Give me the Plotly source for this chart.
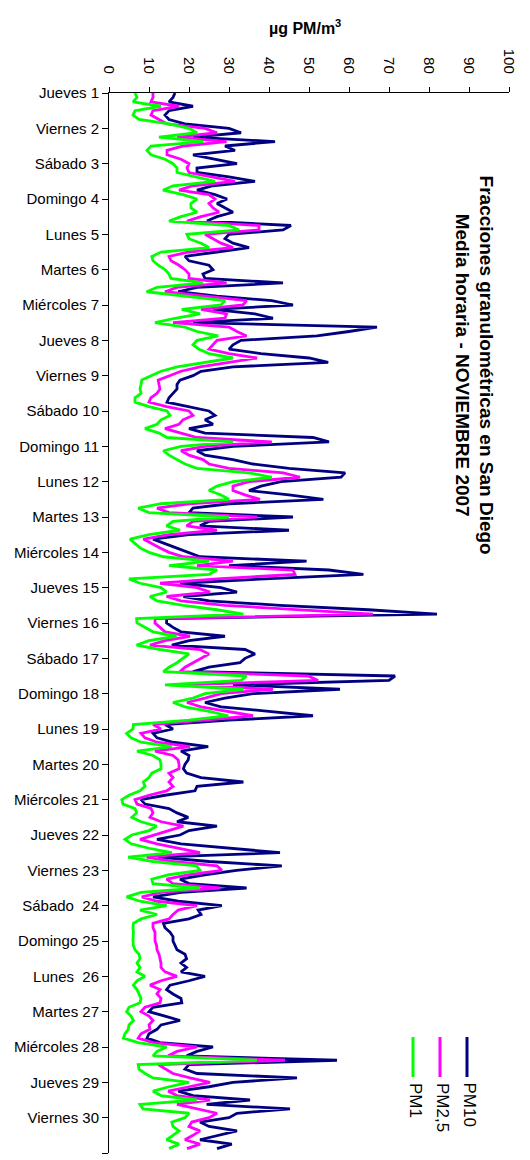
import plotly.graph_objects as go

# Hourly-average particle fractions, San Diego, November 2007 (3-hour steps, 8 per day)
pm10 = [
    16.5, 16, 15, 21, 15, 14, 15, 19,
    30, 33, 21, 41.5, 29, 31.5, 21, 27,
    32, 22, 22, 30, 36.5, 26, 22, 26.5,
    29.5, 27, 29, 31, 27, 24.5, 45.5, 43.5,
    30, 29, 31, 35, 27, 19, 20, 25,
    26, 23.5, 24, 43.5, 22, 17.3, 27, 40.7,
    46, 26, 36.5, 41, 21, 67, 60, 52,
    33, 31, 30, 38, 50, 54.8, 31, 23,
    21, 17.75, 17, 17, 16, 15, 14.5, 20,
    25, 26.5, 24, 26, 20, 24, 51, 55,
    31, 22, 24, 31, 36, 45, 59, 58,
    43, 38, 35, 45, 53.6, 30, 21, 20,
    46, 25, 22.75, 45, 20, 11, 14, 17,
    20, 22.75, 49.4, 30, 55, 63.6, 39, 17.75,
    28, 32, 18.6, 25, 42.75, 64.8, 82, 14.4,
    14.4, 16, 18, 29, 20, 15.7, 34, 36.5,
    34, 32.75, 25, 21, 71.5, 70, 31, 57.75,
    36, 29, 24, 28, 40, 51, 30, 14,
    16, 11, 12, 16, 24.8, 18, 20, 19.8,
    19, 18.6, 19.4, 23, 33.6, 22, 21.5, 14,
    8, 9, 15, 17, 19.8, 17, 27, 20,
    17.75, 12, 18, 30, 42.75, 12.3, 25, 43.2,
    31.9, 24, 17.75, 20, 34.4, 18, 11, 17.3,
    28.2, 22.3, 23, 20, 13.6, 14, 15.25, 16,
    16, 16.5, 17, 19, 19.4, 18, 19.4, 18,
    24, 20, 15.25, 14.4, 16, 18, 18.2, 11,
    10, 14, 17.75, 13, 12, 10, 9.5, 12.75,
    26, 22, 19.4, 57, 20, 19, 22, 47,
    31, 25, 17.3, 21, 35.25, 24.4, 45.25, 32,
    30, 22.75, 25, 32, 27, 22.75, 30.7, 27,
]

pm25 = [
    11, 11, 10.5, 17.5, 11, 10.5, 12.5, 14.5,
    24, 27, 17, 29.4, 18.6, 14.5, 14.5, 18,
    20, 19.5, 20, 26, 31.5, 21, 17.5, 25,
    26.5, 25, 26, 27.5, 23, 19.5, 37.5, 37.5,
    24, 26, 28, 31, 20, 15, 15.5, 17.5,
    19, 20, 20, 29.4, 17, 14, 24, 34.4,
    33.5, 23, 29.4, 29, 16, 30, 32, 34.4,
    27, 26, 25, 30, 37, 30, 22.75, 18,
    15, 12.3, 12.5, 12.75, 12, 10.5, 10, 14.4,
    20, 21, 18.5, 17.5, 14, 18, 22, 40.7,
    24, 18, 20, 23.5, 25, 30, 43.6, 47.75,
    35, 31, 31, 34, 37.75, 20, 12, 15,
    37, 21, 19.4, 27, 15, 8.6, 10.5, 12.75,
    15, 18.6, 31, 22, 46, 46.5, 27, 12.75,
    22, 25.25, 14.4, 18, 29, 48.6, 66, 11.5,
    11.5, 12.75, 14, 20.25, 14, 10.25, 22.75, 25,
    23, 21, 19, 17.75, 49.8, 52.3, 18.6, 41,
    28, 24, 19.5, 23, 30, 36, 24, 11,
    13, 8, 9, 12, 20.25, 11.5, 16, 17.3,
    17.5, 17.5, 15, 16, 15, 16, 14.4, 10,
    6.5, 7, 10.5, 11, 10.25, 13, 18.6, 15,
    11, 7.75, 12, 17, 22.75, 9.4, 16, 27,
    28.2, 20, 14.4, 16, 27.75, 13, 8.2, 12,
    22, 17.3, 16, 15, 11, 11, 11.5, 11.5,
    11.5, 11.9, 12, 12.5, 12.75, 13, 13, 14,
    17, 13, 10.25, 12.75, 12, 13, 12.75, 9,
    8, 10, 11, 10, 10.25, 8, 7.3, 11,
    22, 17, 14.8, 44, 12.3, 14, 16, 20.25,
    25.25, 20, 14.8, 17, 25.25, 17, 22, 27,
    25, 20.7, 20, 22.75, 21, 19, 22.75, 19.5,
]

pm1 = [
    6.5, 7, 6, 13, 6.5, 6, 7.5, 15,
    20, 22, 12.5, 23.6, 10.5, 9.5, 10.5, 14,
    16, 17, 17, 22, 26.5, 16, 13.5, 18.5,
    22, 20.5, 20.5, 22, 18, 15, 30, 32.5,
    19.5, 20, 23, 25, 13, 10.7, 11, 12.3,
    14, 15, 15.5, 23.5, 12, 9.4, 19, 29,
    28, 18.2, 22.75, 16.5, 11.5, 19, 22, 27.3,
    22, 21, 22.5, 25, 31, 23.5, 17, 13,
    10.5, 8.2, 8, 7.75, 8, 6.5, 6.5, 10,
    14.5, 15.25, 13, 12, 9, 12.5, 14.5, 31,
    18, 13.6, 15, 17, 19, 22, 35, 40.7,
    31, 27, 25, 28, 30, 13, 7.3, 10,
    30, 16, 14.4, 17.75, 10, 5.25, 6.5, 7.75,
    10, 13.6, 25, 15, 27, 25, 5, 7.75,
    13, 14.4, 10.25, 12, 18.6, 27, 33.6, 6.9,
    7, 9, 11, 16.9, 10, 6.9, 12.75, 20,
    18.5, 17, 15, 13.6, 34.4, 33, 14, 33.6,
    24, 21, 16, 19, 25, 29.8, 20, 6.1,
    6, 4.4, 5.5, 8, 15.7, 7, 11, 12.75,
    13, 13, 10.7, 10, 8.6, 9, 7.75, 5,
    3.2, 3.5, 6.5, 6.9, 5.7, 8, 11.9, 10,
    5.7, 4, 5.5, 10, 15.7, 4.8, 11, 21.9,
    22.75, 15, 10.7, 11, 22.75, 8, 4.4, 7.75,
    14.4, 7.75, 12, 8, 6.1, 6, 6.1, 6,
    6, 6.1, 6.5, 7.5, 7.75, 7, 7.75, 7,
    9, 7, 6.1, 7, 7.5, 8, 7.75, 5,
    4.4, 5.5, 6.1, 5, 4.8, 4, 3.6, 7.3,
    14.4, 12, 11, 37, 7.3, 7.5, 9, 11,
    20, 15, 11, 13, 21.9, 7.75, 8.5, 20,
    19, 15.7, 16, 17.5, 16, 14.4, 17.5, 15,
]

day_labels = [
    "Jueves 1", "Viernes 2", "Sábado 3", "Domingo 4", "Lunes 5", "Martes 6",
    "Miércoles 7", "Jueves 8", "Viernes 9", "Sábado 10", "Domingo 11", "Lunes 12",
    "Martes 13", "Miércoles 14", "Jueves 15", "Viernes 16", "Sábado 17", "Domingo 18",
    "Lunes 19", "Martes 20", "Miércoles 21", "Jueves 22", "Viernes 23",
    "Sábado \u00a024", "Domingo 25", "Lunes \u00a026", "Martes 27", "Miércoles 28",
    "Jueves 29", "Viernes 30",
]

conc_ticks = [0, 10, 20, 30, 40, 50, 60, 70, 80, 90, 100]

STEP_H = 3
hours = [i * STEP_H for i in range(len(pm10))]
day_ticks = [24 * d for d in range(len(day_labels))]

series = [
    ("PM10", pm10, "#000080"),
    ("PM2,5", pm25, "#FF00FF"),
    ("PM1", pm1, "#00FF00"),
]

FONT = "Liberation Sans, Arial, sans-serif"

fig = go.Figure()
for name, vals, color in series:
    fig.add_trace(go.Scatter(
        x=vals, y=hours, mode="lines", name=name,
        line=dict(color=color, width=2.8),
        showlegend=False,
    ))

fig.update_layout(
    width=530, height=1160, autosize=False,
    margin=dict(l=109, r=21, t=93, b=7),
    paper_bgcolor="white", plot_bgcolor="white",
    font=dict(family=FONT, color="black", size=15),
)

fig.update_xaxes(
    side="top", range=[0, 100], tickvals=conc_ticks,
    tickangle=90, ticks="outside", ticklen=5, tickcolor="black",
    showline=True, linecolor="black", linewidth=1,
    showgrid=False, zeroline=False,
    tickfont=dict(size=15), ticklabelstandoff=8,
)
fig.update_yaxes(
    range=[720, 0], tickvals=day_ticks, ticktext=day_labels,
    ticks="outside", ticklen=6, tickcolor="black",
    minor=dict(ticks="outside", ticklen=6, tickcolor="black", tick0=0, dtick=24),
    showline=True, linecolor="black", linewidth=1,
    showgrid=False, zeroline=False,
    tickfont=dict(size=15),
)

# axis title above the rotated tick labels
fig.add_annotation(
    text="<b>µg PM/m<sup>3</sup></b>", xref="paper", yref="paper",
    x=0.49, y=1.062, showarrow=False, font=dict(size=16),
    xanchor="center", yanchor="middle",
)

# rotated chart title
fig.add_annotation(
    text="<b>Fracciones granulométricas en San Diego<br>Media horaria - NOVIEMBRE 2007</b>",
    xref="paper", yref="paper", x=0.912, y=0.743, textangle=90,
    showarrow=False, font=dict(size=19), xanchor="center", yanchor="middle",
)

# rotated legend
leg_x = [0.895, 0.8275, 0.76]
for (name, _, color), lx in zip(series, leg_x):
    fig.add_shape(type="line", xref="paper", yref="paper",
                  x0=lx, x1=lx, y0=0.1094, y1=0.0717,
                  line=dict(color=color, width=3))
    fig.add_annotation(text=name, xref="paper", yref="paper",
                       x=lx + 0.006, y=0.068, textangle=90, showarrow=False,
                       font=dict(size=17), xanchor="center", yanchor="top")

fig.write_html("out.html")
